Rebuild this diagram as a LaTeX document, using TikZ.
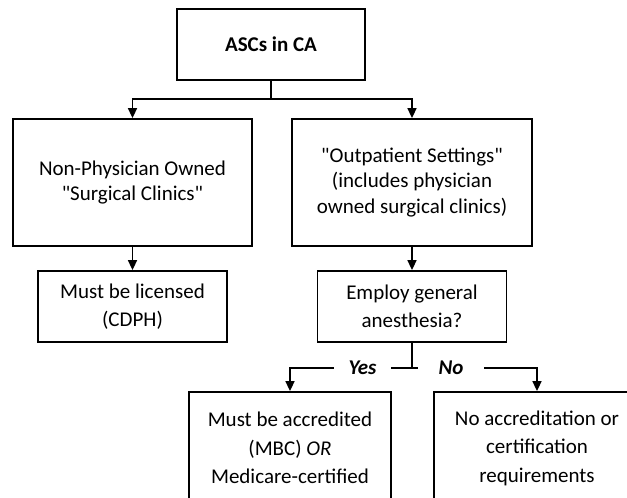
\documentclass[tikz,border=0pt]{standalone}
\usepackage{fontspec}
\setmainfont{Carlito}
\newfontfamily\cali{Carlito}
\usetikzlibrary{arrows.meta}
\begin{document}
\begin{tikzpicture}[x=1pt,y=-1pt,
  box/.style={draw,line width=1.8pt,align=center,inner sep=0pt,font=\cali\fontsize{21}{25.5}\selectfont},
  boxb/.style={box,font=\cali\fontsize{21}{28.5}\selectfont},
  conn/.style={line width=1.6pt},
  arr/.style={conn,-{Triangle[length=10pt,width=9pt]}},
  lab/.style={fill=white,inner xsep=15pt,inner ysep=2pt,font=\cali\fontsize{21}{25}\selectfont\bfseries\itshape}]
\clip (0,0) rectangle (627,498);
\fill[white] (0,0) rectangle (627,498);
\node[box,minimum width=188pt,minimum height=71pt,font=\cali\fontsize{21}{25}\selectfont\bfseries] (asc) at (271,44.5) {ASCs in CA};
\node[box,minimum width=239pt,minimum height=127pt] (l1) at (132.5,182.5) {Non-Physician Owned\\"Surgical Clinics"};
\node[box,minimum width=240pt,minimum height=127pt] (r1) at (412,182.5) {"Outpatient Settings"\\(includes physician\\owned surgical clinics)};
\node[boxb,minimum width=189pt,minimum height=71pt] (l2) at (132.5,306.5) {Must be licensed\\(CDPH)};
\node[boxb,minimum width=189pt,minimum height=71pt] (r2) at (412,306.5) {Employ general\\anesthesia?};
\node[boxb,minimum width=202pt,minimum height=112pt] (yb) at (290,448) {Must be accredited\\(MBC) \textit{OR}\\Medicare-certified};
\node[boxb,minimum width=206pt,minimum height=112pt] (nb) at (537,448) {No accreditation or\\certification\\requirements};
\coordinate (split) at (271,99);
\coordinate (tee) at (412,368);
\draw[conn] (asc) -- (split);
\draw[arr] (split) -| (l1);
\draw[arr] (split) -| (r1);
\draw[arr] (l1) -- (l2);
\draw[arr] (r1) -- (r2);
\draw[conn] (r2) -- (tee);
\draw[arr] (tee) -| (yb);
\draw[arr] (tee) -| (nb);
\node[lab] (yes) at (362.5,368) {Yes};
\node[lab,inner xsep=21pt] (no) at (451,368) {No};
\end{tikzpicture}
\end{document}
